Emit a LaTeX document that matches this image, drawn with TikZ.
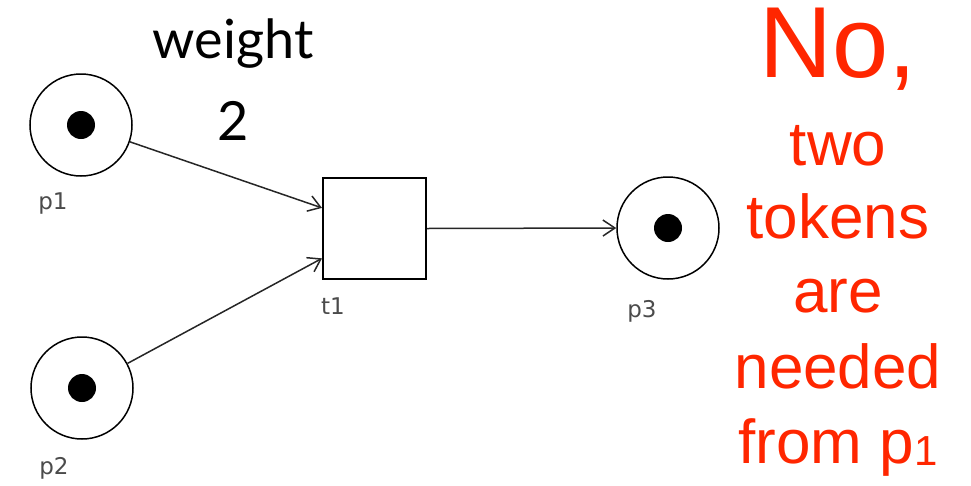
\documentclass[tikz,border=0pt]{standalone}
\usepackage{fontspec}
\setmainfont{Liberation Sans}
\newfontfamily\weightfont{Lato}
\newfontfamily\labelfont{DejaVu Sans}
\usetikzlibrary{arrows.meta,calc}
\definecolor{alertred}{RGB}{255,38,0}
\definecolor{labelgray}{RGB}{75,75,75}
\tikzset{
  place/.style={circle, draw, line width=1.5pt, minimum size=102pt, inner sep=0pt,
    path picture={\fill (path picture bounding box.center) circle[radius=14pt];}},
  transition/.style={rectangle, draw, line width=2pt, minimum width=103pt,
    minimum height=101pt, inner sep=0pt},
  arc/.style={line width=1.5pt, draw=black!85, -{Straight Barb[length=12pt,width=16pt,line width=1.5pt]}},
  plabel/.style={font=\labelfont\fontsize{23}{23}\selectfont, text=labelgray, anchor=base, inner sep=0pt},
  weightlabel/.style={font=\weightfont\fontsize{54}{54}\selectfont, anchor=base, inner sep=0pt},
  answer/.style={font=\fontsize{62}{62}\selectfont, text=alertred, anchor=base, inner sep=0pt}
}
\begin{document}
\begin{tikzpicture}[x=1pt, y=-1pt]
  \useasboundingbox (0,0) rectangle (971,485);

  % places and transition
  \node[place] (p1) at (81,125) {};
  \node[place] (p2) at (82,388) {};
  \node[place] (p3) at (668,228) {};
  \node[transition] (t1) at (374.5,228.5) {};

  % labels under the net elements
  \node[plabel] (lp1) at (53,209) {p1};
  \node[plabel] (lp2) at (54,474) {p2};
  \node[plabel] (lt1) at (333,314) {t1};
  \node[plabel] (lp3) at (642,317) {p3};

  % arcs
  \coordinate (in1) at ($(t1.north west)!0.3!(t1.south west)$);
  \coordinate (in2) at ($(t1.north west)!0.79!(t1.south west)$);
  \draw[arc] (p1) -- (in1);
  \draw[arc] (p2) -- (in2);
  \draw[arc] (t1.east) -- (p3.west);

  % arc weight
  \node[weightlabel] (wt) at (233,58) {weight};
  \node[weightlabel] (wtn) at (233,140) {2};

  % answer text
  \node[answer, font=\fontsize{101}{101}\selectfont] (no) at (838,77) {No,};
  \node[answer] (a1) at (838,165) {two};
  \node[answer] (a2) at (838,238) {tokens};
  \node[answer] (a3) at (838,312) {are};
  \node[answer] (a4) at (838,388) {needed};
  \node[answer] (a5) at (838,463) {from p\raisebox{-2pt}{\fontsize{42}{42}\selectfont 1}};
\end{tikzpicture}
\end{document}
